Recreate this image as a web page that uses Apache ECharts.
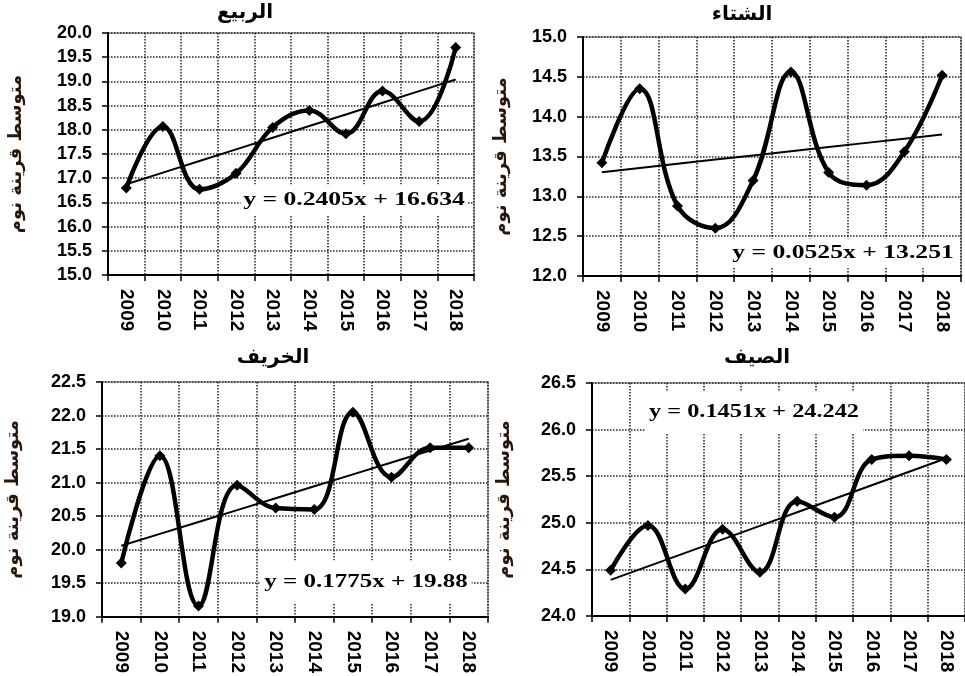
<!DOCTYPE html>
<html><head><meta charset="utf-8">
<script src="https://cdn.jsdelivr.net/npm/echarts@6/dist/echarts.min.js"></script>
<style>html,body{margin:0;padding:0;background:#fff}#c{width:965px;height:676px}</style>
</head><body><div id="c"></div>
<script>
// ---- data ----
const years = ['2009','2010','2011','2012','2013','2014','2015','2016','2017','2018'];
const springValues = [16.8, 18.07, 16.77, 17.1, 18.05, 18.4, 17.92, 18.8, 18.17, 19.7];
const winterValues = [13.42, 14.35, 12.88, 12.6, 13.2, 14.56, 13.3, 13.14, 13.56, 14.52];
const autumnValues = [19.8, 21.4, 19.16, 20.96, 20.62, 20.6, 22.05, 21.08, 21.52, 21.52];
const summerValues = [24.49, 24.97, 24.29, 24.93, 24.47, 25.23, 25.06, 25.68, 25.72, 25.68];
const seasonTitles = ['الربيع', 'الشتاء', 'الخريف', 'الصيف'];
const yAxisTitle = 'متوسط قرينة نوم';
const trendSlopes = [0.2405, 0.0525, 0.1775, 0.1451];
const trendIntercepts = [16.634, 13.251, 19.88, 24.242];
const equationLabels = ['y = 0.2405x + 16.634', 'y = 0.0525x + 13.251', 'y = 0.1775x + 19.88', 'y = 0.1451x + 24.242'];
const yMins = [15, 12, 19, 24];
const yMaxs = [20, 15, 22.5, 26.5];
const yStep = 0.5;

// ---- layout ----
const seriesValues = [springValues, winterValues, autumnValues, summerValues];
const grids = [
  {left: 108, top: 33, width: 366, height: 242},
  {left: 583, top: 37, width: 378, height: 239},
  {left: 102, top: 382, width: 386, height: 235},
  {left: 592, top: 383, width: 377, height: 233}
];
const nameGaps = [83, 73, 80, 79];
const titlePos = [[245, 13], [742, 15], [273, 358], [757, 358]];
const eqPos = [[354, 200], [843, 253], [366, 582], [754, 412]];
const eqFont = [19, 19, 18.5, 18];
const eqPad = [[6, 2], [5, 2], [12, 3], [12, 3]];
const gridDash = {color: '#222', width: 1.5, type: [1.5, 1.5]};

const chart = echarts.init(document.getElementById('c'), null, {renderer: 'canvas'});
const option = {
  animation: false,
  backgroundColor: '#fff',
  grid: grids.map(g => Object.assign({show: true, borderColor: '#9a9a9a', borderWidth: 1.5, backgroundColor: 'transparent', containLabel: false}, g)),
  xAxis: grids.map((g, i) => ({
    type: 'category', gridIndex: i, data: years, boundaryGap: true,
    axisLine: {show: true, lineStyle: {color: '#000', width: 2}},
    axisTick: {show: true, alignWithLabel: false, length: 6, lineStyle: {color: '#000', width: 1.5}},
    axisLabel: {rotate: -90, margin: 14, fontFamily: '"Liberation Sans", Arial', fontWeight: 'bold', fontSize: 19, color: '#000'},
    splitLine: {show: true, lineStyle: gridDash}
  })),
  yAxis: grids.map((g, i) => ({
    type: 'value', gridIndex: i, min: yMins[i], max: yMaxs[i], interval: yStep,
    name: yAxisTitle, nameLocation: 'middle', nameGap: nameGaps[i], nameRotate: 90,
    nameTextStyle: {fontFamily: '"DejaVu Sans"', fontWeight: 'bold', fontSize: 18, color: '#2a1508'},
    axisLine: {show: true, lineStyle: {color: '#000', width: 2}},
    axisTick: {show: true, length: 6, lineStyle: {color: '#000', width: 1.5}},
    axisLabel: {margin: 16, fontFamily: '"Liberation Sans", Arial', fontWeight: 'bold', fontSize: 18, color: '#000',
      formatter: v => v.toFixed(1)},
    splitLine: {show: true, lineStyle: gridDash}
  })),
  series: [].concat(...seriesValues.map((vals, i) => [
    {
      type: 'line', xAxisIndex: i, yAxisIndex: i, data: vals, smooth: 0.4,
      symbol: 'diamond', symbolSize: 11, showSymbol: true,
      lineStyle: {color: '#000', width: 4.5}, itemStyle: {color: '#000'}, z: 3
    },
    {
      type: 'line', xAxisIndex: i, yAxisIndex: i, symbol: 'none',
      data: years.map((_, k) => +(trendIntercepts[i] + trendSlopes[i] * (k + 1)).toFixed(4)),
      lineStyle: {color: '#000', width: 2}, z: 2
    }
  ])),
  graphic: [].concat(
    seasonTitles.map((t, i) => ({
      type: 'text', x: titlePos[i][0], y: titlePos[i][1], z: 100,
      style: {text: t, font: 'bold 20px "DejaVu Sans"', fill: '#000',
        textAlign: 'center', textVerticalAlign: 'middle', align: 'center', verticalAlign: 'middle'}
    })),
    equationLabels.map((t, i) => ({
      type: 'text', x: eqPos[i][0], y: eqPos[i][1], z: 100, scaleX: 1.35,
      style: {text: t, font: 'bold ' + eqFont[i] + 'px "Liberation Serif", "Times New Roman"', fill: '#000',
        textAlign: 'center', textVerticalAlign: 'middle', align: 'center', verticalAlign: 'middle',
        backgroundColor: '#fff', padding: eqPad[i]}
    }))
  )
};
chart.setOption(option);
</script></body></html>
